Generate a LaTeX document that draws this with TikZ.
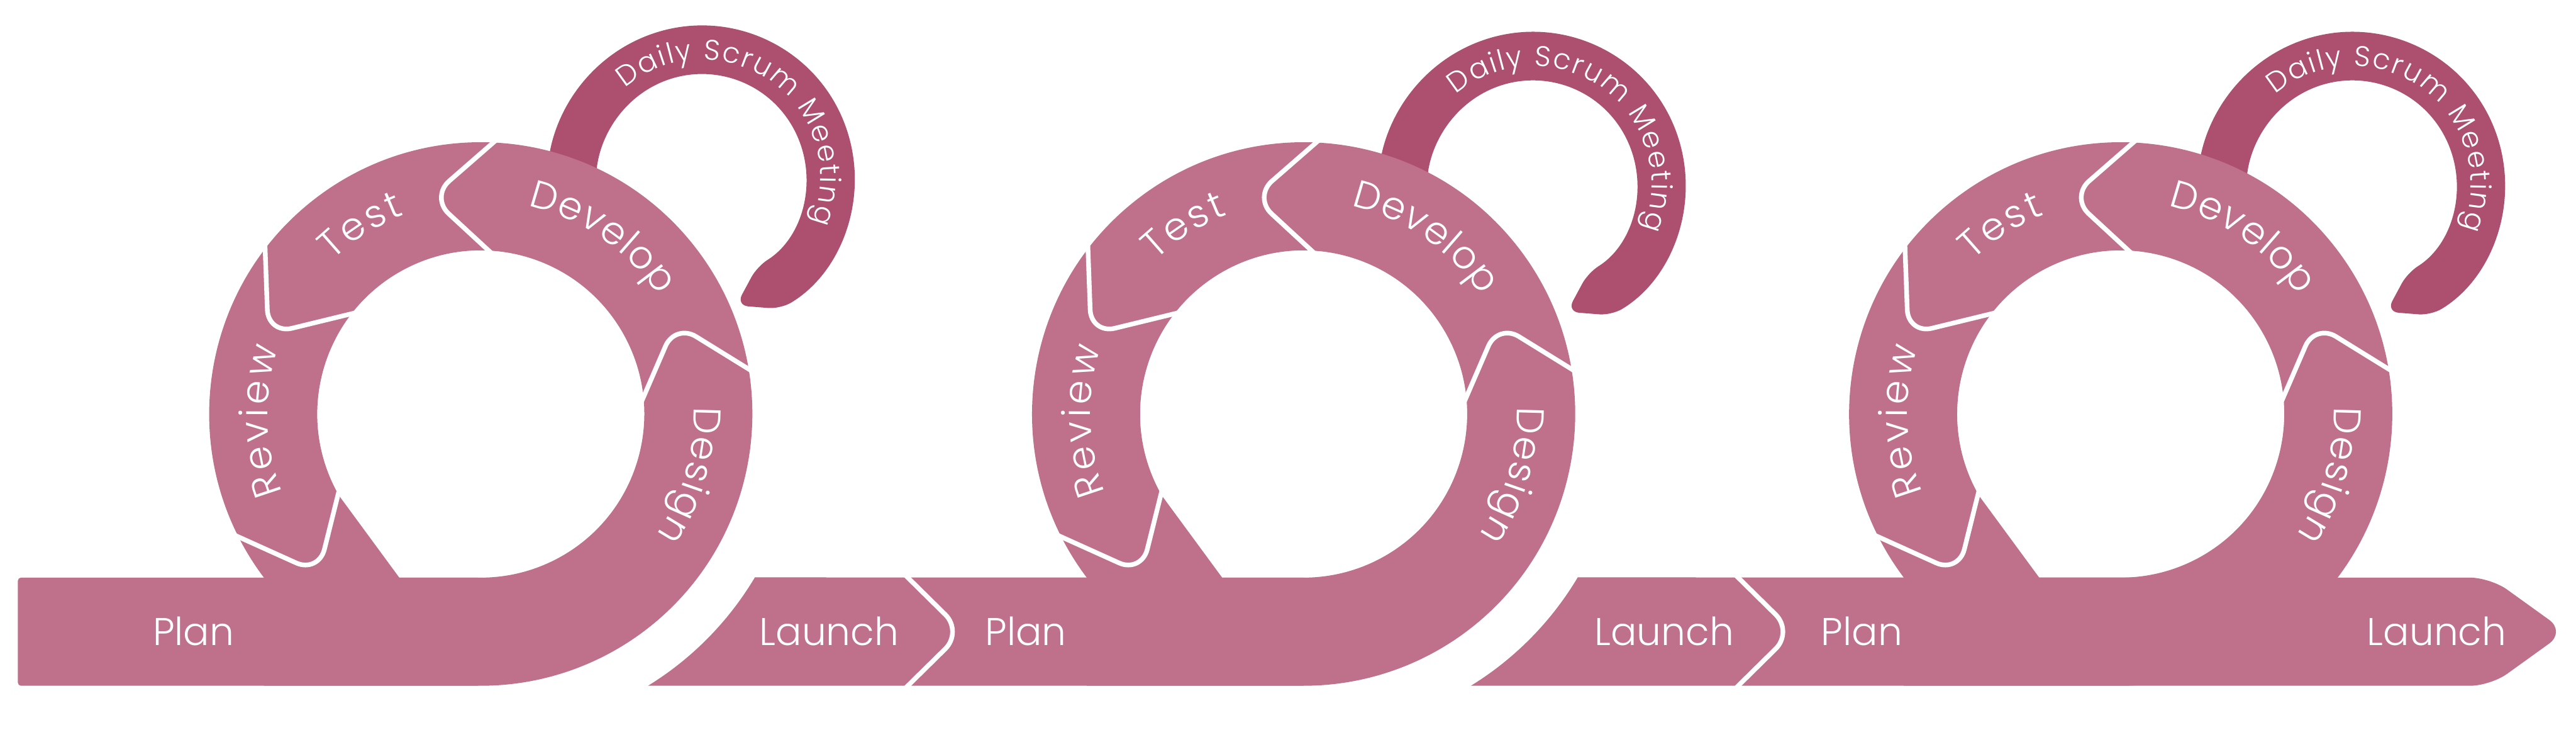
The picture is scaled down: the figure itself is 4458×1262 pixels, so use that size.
\documentclass[tikz,border=0pt]{standalone}
\usepackage{fontspec}
\setmainfont{Poppins}[UprightFont=* Light]
\usetikzlibrary{decorations.text}
\definecolor{cyclepink}{HTML}{BF708A}
\definecolor{scrumpink}{HTML}{AD4F6F}

\begin{document}
\begin{tikzpicture}[
				x=0.01cm, y=0.01cm,
				ring/.style={fill=cyclepink, even odd rule},
				scrum/.style={fill=scrumpink, rounded corners=6pt},
				divider/.style={draw=white, line width=2.3pt, rounded corners=12pt},
				arclabel/.style={decorate, decoration={text along path, text align=fit to path,
						text={|\color{white}\fontsize{19}{22}\selectfont|#1}}},
				scrumlabel/.style={decorate, decoration={text along path, text align=fit to path,
						text={|\color{white}\fontsize{14}{16}\selectfont|#1}}},
				barlabel/.style={text=white, font=\fontsize{19}{22}\selectfont, anchor=base, inner sep=0pt}
				]
				\useasboundingbox (0,0) rectangle (4458,1262);
				
				% Daily scrum loops and sprint rings
				\foreach \cx/\sx/\sy in {832/1215/954, 2256/2653/943, 3670/4071/943} {
					\begin{scope}[shift={(\sx,\sy)}]
						\fill[scrum] (200:264) arc[start angle=200, end angle=-59, radius=264]
						-- (-75:228) -- (-58:180) arc[start angle=-58, end angle=200, radius=180] -- cycle;
						\path[scrumlabel={Daily Scrum Meeting}] (130.5:205) arc[start angle=130.5, end angle=-22, radius=205];
					\end{scope}
					\begin{scope}[shift={(\cx,546)}]
						\fill[ring] (217.02:470) arc[start angle=217.02, end angle=-90, radius=470] -- (-375.3,-470) -- cycle
						(-141,-283) -- (210:283) arc[start angle=210, end angle=-90, radius=283] -- cycle;
					\end{scope}
				}
				
				% Bars
				\fill[ring, rounded corners=1.5pt] (31,76) rectangle (832,263);
				\fill[ring] (1121.5,76) arc[start angle=-58.4, end angle=-30.8, radius=552]
				-- (2256,263) -- (2256,76) -- cycle;
				\fill[ring] (2545.5,76) arc[start angle=-58.4, end angle=-30.8, radius=552]
				[rounded corners=10pt] -- (4310,263) -- (4440,169.5) -- (4310,76) [sharp corners] -- cycle;
				
				% Dividers and ring labels
				\foreach \cx in {832, 2256, 3670} {
					\begin{scope}[shift={(\cx,546)}]
						\draw[divider] (8.9:476) -- (24.9:371) -- (4:278);
						\draw[divider] (86.6:476) -- (103:385) -- (86:278);
						\draw[divider] (141.7:476) -- (159.4:393) -- (140.9:278);
						\draw[divider] (206:476) -- (224.4:393) -- (208.2:278);
						\path[arclabel=Design] (2:369) arc[start angle=2, end angle=-34.5, radius=369];
						\path[arclabel=Develop] (77.2:369) arc[start angle=77.2, end angle=33.6, radius=369];
						\path[arclabel=Test] (134:369) arc[start angle=134, end angle=111, radius=369];
						\path[arclabel=Review] (201.5:369) arc[start angle=201.5, end angle=162, radius=369];
					\end{scope}
				}
				\draw[divider] (1567,267) -- (1666,169.5) -- (1567,72);
				\draw[divider] (3004,267) -- (3103,169.5) -- (3004,72);
				
				% Bar labels
				\node[barlabel] (plan1) at (335,146) {Plan};
				\node[barlabel] (launch1) at (1435,146) {Launch};
				\node[barlabel] (plan2) at (1775,146) {Plan};
				\node[barlabel] (launch2) at (2880,146) {Launch};
				\node[barlabel] (plan3) at (3222,146) {Plan};
				\node[barlabel] (launch3) at (4217,146) {Launch};
				
\end{tikzpicture}
\end{document}
